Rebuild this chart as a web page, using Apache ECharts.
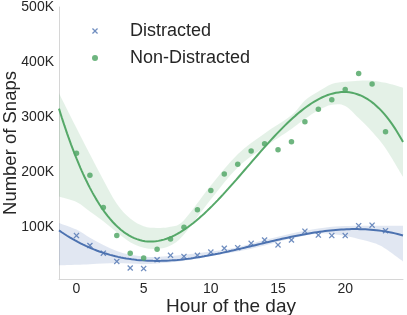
<!DOCTYPE html>
<html><head><meta charset="utf-8">
<script src="https://cdn.jsdelivr.net/npm/echarts@6/dist/echarts.min.js"></script>
<style>html,body{margin:0;padding:0;background:#fff}#c{width:407px;height:315px}</style>
</head><body><div id="c"></div>
<script>
// ---- data ----
const hours = [0,1,2,3,4,5,6,7,8,9,10,11,12,13,14,15,16,17,18,19,20,21,22,23];
const distracted = [84000,66000,52000,37000,25000,24000,40000,48000,46000,48000,54000,61000,62000,70000,76000,67000,76000,92000,85000,84000,84000,102000,103000,93000];
const nonDistracted = [234000,194000,135000,84000,52000,43000,59000,78000,99000,131000,166000,196000,214000,238000,251000,240000,255000,291000,314000,331000,350000,379000,360000,273000];
const xTicks = [0,5,10,15,20];
const yTicks = [100000,200000,300000,400000,500000];
// confidence bands
const blueBandHours = [-1.3,0,1,2,3,4,5,6,8,10,12,14,16,18,19.6,21,22.2,23,24.3];
const blueBandUpper = [107000,95000,80000,67000,56000,49000,46000,45000,49000,55000,63000,76000,88000,97000,101000,102000,102000,102000,102000];
const blueBandLower = [30000,31000,32000,33000,34000,33000,32000,33000,38000,47000,55000,66000,79000,88000,85000,78000,70000,60000,37000];
const greenBandHours = [-1.3,0,1,2,3,4,5,6,7,8,10,12,14,16,17,18,19,20,21,22,23,24.3];
const greenBandUpper = [343000,280000,232000,185000,142000,115000,101000,98000,100000,112000,175000,232000,270000,303000,330000,346000,360000,364000,366000,366000,362000,353000];
const greenBandLower = [155000,145000,128000,110000,90000,72000,62000,60000,66000,86000,150000,208000,245000,278000,296000,312000,322000,320000,298000,273000,243000,191000];

const X_MIN = -1.3, X_MAX = 24.3;
const BLUE = '#4c72b0', GREEN = '#55a868';
const FONT = 'Liberation Sans, Arial, sans-serif';

function polyfit(xs, ys, order) {
  const m = order + 1;
  const M = [], b = [];
  for (let i = 0; i < m; i++) { M.push(new Array(m).fill(0)); b.push(0); }
  for (let k = 0; k < xs.length; k++) {
    const p = [];
    for (let i = 0; i < m; i++) p.push(Math.pow(xs[k], i));
    for (let i = 0; i < m; i++) {
      b[i] += p[i] * ys[k];
      for (let j = 0; j < m; j++) M[i][j] += p[i] * p[j];
    }
  }
  for (let c = 0; c < m; c++) {
    let piv = c;
    for (let r = c + 1; r < m; r++) if (Math.abs(M[r][c]) > Math.abs(M[piv][c])) piv = r;
    [M[c], M[piv]] = [M[piv], M[c]]; [b[c], b[piv]] = [b[piv], b[c]];
    for (let r = c + 1; r < m; r++) {
      const f = M[r][c] / M[c][c];
      for (let j = c; j < m; j++) M[r][j] -= f * M[c][j];
      b[r] -= f * b[c];
    }
  }
  const coef = new Array(m).fill(0);
  for (let i = m - 1; i >= 0; i--) {
    let s = b[i];
    for (let j = i + 1; j < m; j++) s -= M[i][j] * coef[j];
    coef[i] = s / M[i][i];
  }
  return coef;
}
function fitCurve(ys) {
  const c = polyfit(hours, ys, 3);
  const out = [];
  for (let x = X_MIN; x <= X_MAX + 1e-9; x += 0.1) {
    let y = 0;
    for (let i = 0; i < c.length; i++) y += c[i] * Math.pow(x, i);
    out.push([x, y]);
  }
  return out;
}
function curvePath(pts, move) {
  let d = (move ? 'M' : 'L') + pts[0][0] + ',' + pts[0][1];
  for (let i = 0; i < pts.length - 1; i++) {
    const p0 = pts[Math.max(i - 1, 0)], p1 = pts[i], p2 = pts[i + 1], p3 = pts[Math.min(i + 2, pts.length - 1)];
    const c1 = [p1[0] + (p2[0] - p0[0]) / 6, p1[1] + (p2[1] - p0[1]) / 6];
    const c2 = [p2[0] - (p3[0] - p1[0]) / 6, p2[1] - (p3[1] - p1[1]) / 6];
    d += 'C' + c1[0] + ',' + c1[1] + ' ' + c2[0] + ',' + c2[1] + ' ' + p2[0] + ',' + p2[1];
  }
  return d;
}
function bandSeries(bx, lo, hi, color) {
  return {
    type: 'custom', silent: true, clip: true, z: 1,
    data: [[bx[0], lo[0]]],
    renderItem: function (params, api) {
      const up = bx.map((x, i) => api.coord([x, hi[i]]));
      const dn = bx.map((x, i) => api.coord([x, lo[i]])).reverse();
      const d = curvePath(up, true) + curvePath(dn, false) + 'Z';
      return { type: 'path', shape: { pathData: d }, style: { fill: color, stroke: null } };
    }
  };
}
const xPath = 'path://M0,1.5L1.5,0L5,3.5L8.5,0L10,1.5L6.5,5L10,8.5L8.5,10L5,6.5L1.5,10L0,8.5L3.5,5Z';

const chart = echarts.init(document.getElementById('c'), null, { renderer: 'canvas' });
chart.setOption({
  animation: false,
  backgroundColor: '#ffffff',
  textStyle: { fontFamily: FONT },
  grid: { left: 59, right: 4, top: 7, bottom: 36, containLabel: false, outerBoundsMode: 'none' },
  legend: {
    orient: 'vertical', left: 87, top: 17, itemWidth: 6, itemHeight: 6, itemGap: 9,
    textStyle: { fontSize: 18, color: '#262626', lineHeight: 18, fontFamily: FONT, padding: [0, 0, 0, 27] },
    data: [{ name: 'Distracted', icon: xPath }, { name: 'Non-Distracted', icon: 'circle' }]
  },
  xAxis: {
    type: 'value', min: X_MIN, max: X_MAX,
    name: 'Hour of the day', nameLocation: 'middle', nameGap: 18, nameMoveOverlap: false,
    nameTextStyle: { fontSize: 19, color: '#262626', fontFamily: FONT },
    axisLine: { show: true, onZero: false, lineStyle: { color: '#d6d6d6', width: 1 } },
    axisTick: { show: false }, splitLine: { show: false },
    axisLabel: { customValues: xTicks, fontSize: 14, color: '#262626', margin: 3, fontFamily: FONT }
  },
  yAxis: {
    type: 'value', min: 5000, max: 500000,
    name: 'Number of Snaps', nameLocation: 'middle', nameGap: 39, nameMoveOverlap: false,
    nameTextStyle: { fontSize: 18.5, color: '#262626', fontFamily: FONT },
    axisLine: { show: true, onZero: false, lineStyle: { color: '#d6d6d6', width: 1 } },
    axisTick: { show: false }, splitLine: { show: false },
    axisLabel: { customValues: yTicks, fontSize: 14, color: '#262626', margin: 5, fontFamily: FONT,
      formatter: v => (v / 1000) + 'K' }
  },
  series: [
    bandSeries(blueBandHours, blueBandLower, blueBandUpper, 'rgba(76,114,176,0.17)'),
    bandSeries(greenBandHours, greenBandLower, greenBandUpper, 'rgba(85,168,104,0.16)'),
    { type: 'line', name: 'fitD', data: fitCurve(distracted), showSymbol: false, symbol: 'none', z: 3,
      lineStyle: { color: BLUE, width: 2 }, silent: true },
    { type: 'line', name: 'fitN', data: fitCurve(nonDistracted), showSymbol: false, symbol: 'none', z: 3,
      lineStyle: { color: GREEN, width: 2 }, silent: true },
    { type: 'scatter', name: 'Distracted', symbol: xPath, symbolSize: 6, z: 4,
      itemStyle: { color: BLUE, opacity: 0.8 },
      data: hours.map((h, i) => [h, distracted[i]]) },
    { type: 'scatter', name: 'Non-Distracted', symbol: 'circle', symbolSize: 5.5, z: 4,
      itemStyle: { color: GREEN, opacity: 0.85 },
      data: hours.map((h, i) => [h, nonDistracted[i]]) }
  ]
});
</script></body></html>
